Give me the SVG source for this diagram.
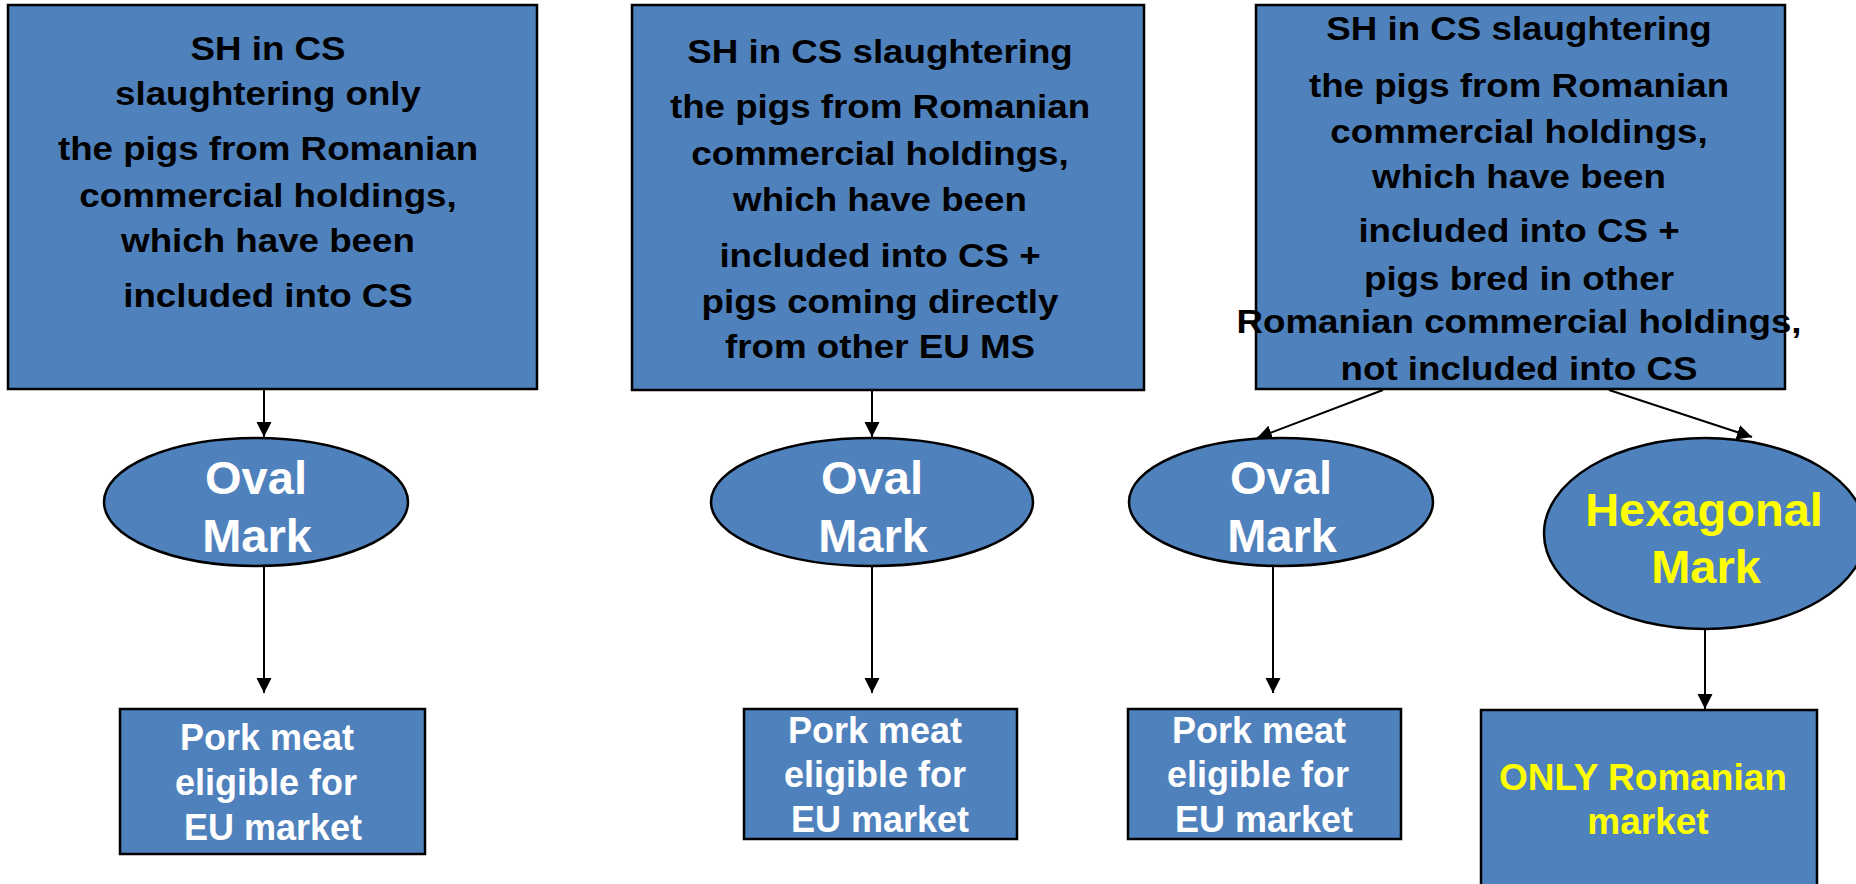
<svg xmlns="http://www.w3.org/2000/svg" width="1856" height="884" viewBox="0 0 1856 884">
<defs>
<style>
.box{fill:#4F81BD;stroke:#000;stroke-width:2.5}
.t{font-family:"Liberation Sans",Arial,sans-serif;font-weight:bold;text-anchor:middle}
.top{font-size:34px;fill:#000}
.mark{font-size:47px;fill:#fff}
.pork{font-size:36px;fill:#fff}
.yel{fill:#FFFF00}
.conn{stroke:#000;stroke-width:2;fill:none;marker-end:url(#arr)}
</style>
<marker id="arr" markerUnits="userSpaceOnUse" markerWidth="16" markerHeight="16" viewBox="0 0 16 16" refX="15" refY="8" orient="auto">
<path d="M0,0.5 L15,8 L0,15.5 Z" fill="#000"/>
</marker>
</defs>
<rect width="1856" height="884" fill="#fff"/>

<g id="connectors">
<line class="conn" x1="264" y1="390" x2="264" y2="437"/>
<line class="conn" x1="264" y1="566" x2="264" y2="693"/>
<line class="conn" x1="872" y1="390" x2="872" y2="437"/>
<line class="conn" x1="872" y1="566" x2="872" y2="693"/>
<line class="conn" x1="1383" y1="390" x2="1257" y2="438"/>
<line class="conn" x1="1609" y1="390" x2="1752" y2="437"/>
<line class="conn" x1="1273" y1="566" x2="1273" y2="693"/>
<line class="conn" x1="1705" y1="629" x2="1705" y2="709"/>
</g>

<g id="src1">
<rect class="box" x="8" y="5" width="529" height="384"/>
<g class="t top" transform="translate(268 0) scale(1.08 1)">
<text x="0" y="60">SH in CS</text>
<text x="0" y="105">slaughtering only</text>
<text x="0" y="160">the pigs from Romanian</text>
<text x="0" y="207">commercial holdings,</text>
<text x="0" y="252">which have been</text>
<text x="0" y="307">included into CS</text>
</g>
</g>

<g id="src2">
<rect class="box" x="632" y="5" width="512" height="385"/>
<g class="t top" transform="translate(880 0) scale(1.08 1)">
<text x="0" y="63">SH in CS slaughtering</text>
<text x="0" y="118">the pigs from Romanian</text>
<text x="0" y="165">commercial holdings,</text>
<text x="0" y="211">which have been</text>
<text x="0" y="267">included into CS +</text>
<text x="0" y="313">pigs coming directly</text>
<text x="0" y="358">from other EU MS</text>
</g>
</g>

<g id="src3">
<rect class="box" x="1256" y="5" width="529" height="384"/>
<g class="t top" transform="translate(1519 0) scale(1.08 1)">
<text x="0" y="40">SH in CS slaughtering</text>
<text x="0" y="97">the pigs from Romanian</text>
<text x="0" y="143">commercial holdings,</text>
<text x="0" y="188">which have been</text>
<text x="0" y="242">included into CS +</text>
<text x="0" y="290">pigs bred in other</text>
<text x="0" y="333">Romanian commercial holdings,</text>
<text x="0" y="380">not included into CS</text>
</g>
</g>

<g id="oval1">
<ellipse class="box" cx="256" cy="502" rx="152" ry="64"/>
<text class="t mark" x="256" y="494">Oval</text>
<text class="t mark" x="257" y="552">Mark</text>
</g>

<g id="oval2">
<ellipse class="box" cx="872" cy="502" rx="161" ry="64"/>
<text class="t mark" x="872" y="494">Oval</text>
<text class="t mark" x="873" y="552">Mark</text>
</g>

<g id="oval3">
<ellipse class="box" cx="1281" cy="502" rx="152" ry="64"/>
<text class="t mark" x="1281" y="494">Oval</text>
<text class="t mark" x="1282" y="552">Mark</text>
</g>

<g id="hex">
<ellipse class="box" cx="1705" cy="533.5" rx="161" ry="95.5"/>
<text class="t mark yel" x="1704" y="526">Hexagonal</text>
<text class="t mark yel" x="1706" y="583">Mark</text>
</g>

<g id="pork1">
<rect class="box" x="120" y="709" width="305" height="145"/>
<text class="t pork" x="267" y="750">Pork meat</text>
<text class="t pork" x="266" y="795">eligible for</text>
<text class="t pork" x="273" y="840">EU market</text>
</g>

<g id="pork2">
<rect class="box" x="744" y="709" width="273" height="130"/>
<text class="t pork" x="875" y="743">Pork meat</text>
<text class="t pork" x="875" y="787">eligible for</text>
<text class="t pork" x="880" y="832">EU market</text>
</g>

<g id="pork3">
<rect class="box" x="1128" y="709" width="273" height="130"/>
<text class="t pork" x="1259" y="743">Pork meat</text>
<text class="t pork" x="1258" y="787">eligible for</text>
<text class="t pork" x="1264" y="832">EU market</text>
</g>

<g id="romania">
<rect class="box" x="1481" y="710" width="336" height="190"/>
<text class="t pork yel" x="1643" y="790" style="font-size:37px">ONLY Romanian</text>
<text class="t pork yel" x="1648" y="834" style="font-size:37px">market</text>
</g>
</svg>
